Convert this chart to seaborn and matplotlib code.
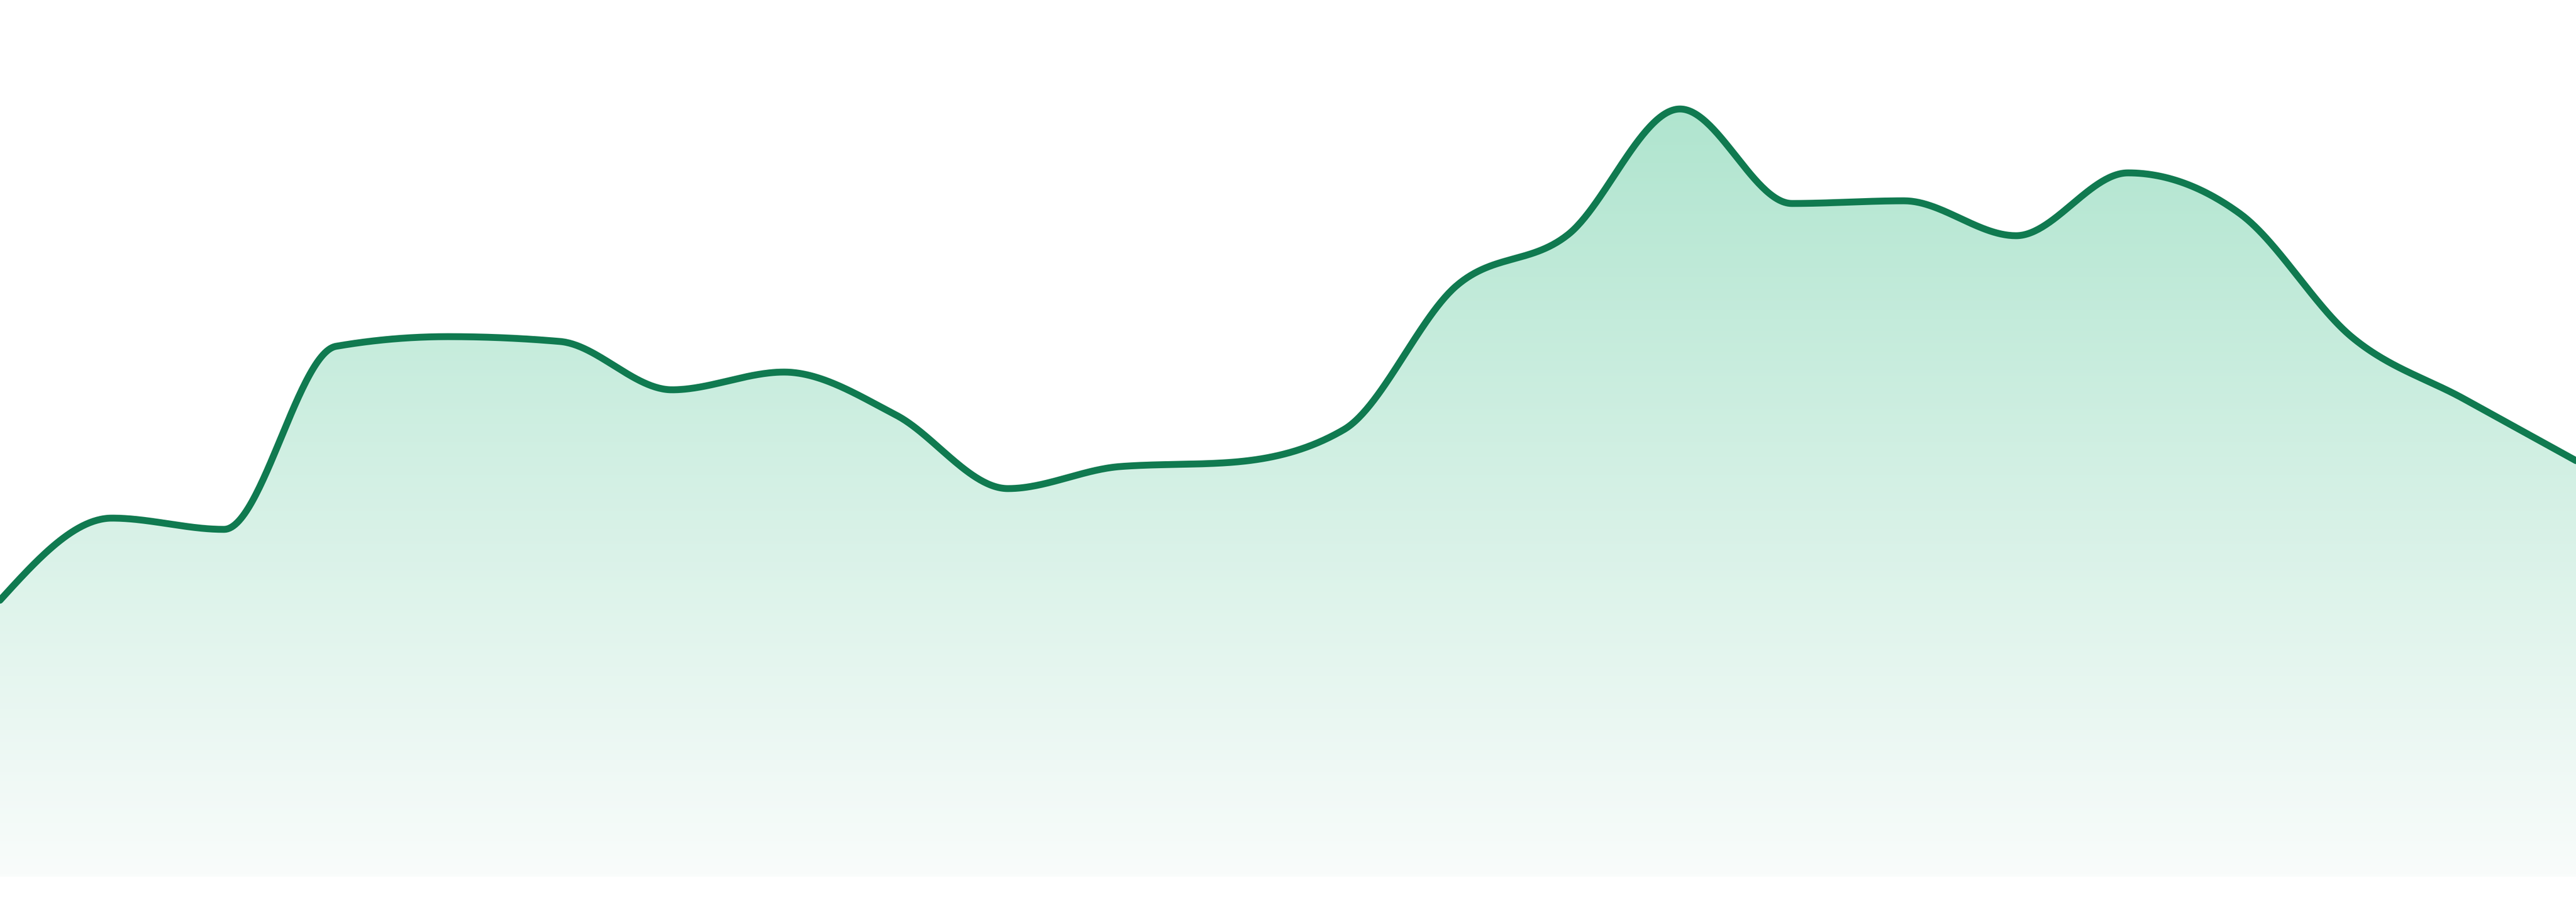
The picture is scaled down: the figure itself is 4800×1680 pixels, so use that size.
import numpy as np
import pandas as pd
import matplotlib
matplotlib.use("Agg")
import matplotlib.pyplot as plt
import seaborn as sns
from matplotlib.colors import LinearSegmentedColormap
from matplotlib.patches import Polygon

# values (one point per period)
periods = list(range(24))
values = [51.5, 66.8, 64.7, 98.8, 100.6, 99.7, 90.7, 94.0, 86.0, 72.3, 76.4, 77.2,
          83.3, 110.0, 119.6, 143.0, 125.4, 125.9, 119.4, 131.1, 123.5, 100.5, 89.0, 77.5]

line_color = "#107a50"
fill_top = "#b0e5cf"
fill_bottom = "#f9fcfb"


# monotone cubic smoothing (same idea as d3 curveMonotoneX)
def monotone_curve(x, y, steps=60):
    x = np.asarray(x, dtype=float)
    y = np.asarray(y, dtype=float)
    n = len(x)
    h = np.diff(x)
    s = np.diff(y) / h
    t = np.zeros(n)
    for i in range(1, n - 1):
        p = (s[i - 1] * h[i] + s[i] * h[i - 1]) / (h[i - 1] + h[i])
        t[i] = (np.sign(s[i - 1]) + np.sign(s[i])) * min(abs(s[i - 1]), abs(s[i]), 0.5 * abs(p))
    t[0] = (3 * s[0] - t[1]) / 2
    t[-1] = (3 * s[-1] - t[-2]) / 2

    xs, ys = [], []
    for i in range(n - 1):
        u = np.linspace(0, 1, steps, endpoint=(i == n - 2))
        h00 = 2 * u**3 - 3 * u**2 + 1
        h10 = u**3 - 2 * u**2 + u
        h01 = -2 * u**3 + 3 * u**2
        h11 = u**3 - u**2
        xs.append(x[i] + u * h[i])
        ys.append(h00 * y[i] + h10 * h[i] * t[i] + h01 * y[i + 1] + h11 * h[i] * t[i + 1])
    return np.concatenate(xs), np.concatenate(ys)


sx, sy = monotone_curve(periods, values)
df = pd.DataFrame({"period": sx, "value": sy})

sns.set_theme(style="white")
fig = plt.figure(figsize=(24, 8.4), dpi=200)
ax = fig.add_axes([0, 0, 1, 1])

# gradient area under the line
cmap = LinearSegmentedColormap.from_list("area", [fill_bottom, fill_top])
grad = np.linspace(0, 1, 256).reshape(-1, 1)
im = ax.imshow(grad, cmap=cmap, aspect="auto", origin="lower",
               extent=[periods[0], periods[-1], 0, max(values)], zorder=1)
verts = np.vstack([np.column_stack([sx, sy]),
                   [[periods[-1], 0], [periods[0], 0]]])
clip = Polygon(verts, closed=True, facecolor="none", edgecolor="none")
ax.add_patch(clip)
im.set_clip_path(clip)

sns.lineplot(data=df, x="period", y="value", color=line_color, linewidth=4.6,
             ax=ax, zorder=3, sort=False)

ax.set_xlim(periods[0], periods[-1])
ax.set_ylim(-4.7, 163.3)
ax.axis("off")

fig.savefig("out.png", dpi=200, facecolor="white")
